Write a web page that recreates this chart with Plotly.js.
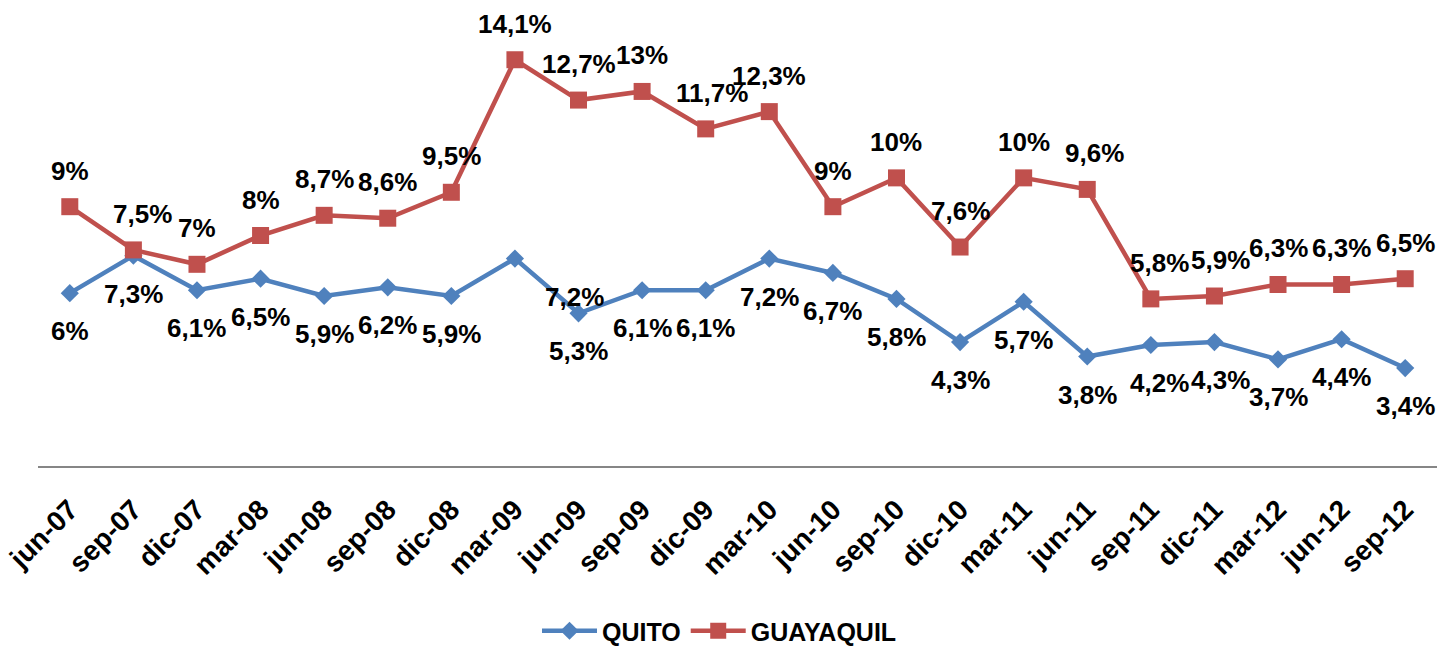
<!DOCTYPE html>
<html>
<head>
<meta charset="utf-8">
<script src="https://cdn.plot.ly/plotly-3.0.1.min.js"></script>
<style>html,body{margin:0;padding:0;background:#fff}#chart{width:1439px;height:654px}</style>
</head>
<body>
<div id="chart"></div>
<script>
const categories = ["jun-07","sep-07","dic-07","mar-08","jun-08","sep-08","dic-08","mar-09","jun-09","sep-09","dic-09","mar-10","jun-10","sep-10","dic-10","mar-11","jun-11","sep-11","dic-11","mar-12","jun-12","sep-12"];
const quito = [6, 7.3, 6.1, 6.5, 5.9, 6.2, 5.9, 7.2, 5.3, 6.1, 6.1, 7.2, 6.7, 5.8, 4.3, 5.7, 3.8, 4.2, 4.3, 3.7, 4.4, 3.4];
const guayaquil = [9, 7.5, 7, 8, 8.7, 8.6, 9.5, 14.1, 12.7, 13, 11.7, 12.3, 9, 10, 7.6, 10, 9.6, 5.8, 5.9, 6.3, 6.3, 6.5];

// label nudges (pixels), kept apart from data
const quitoNudgeX = {7: 60, 17: 9, 18: 6};
const guayNudgeX = {10: 6, 16: 7, 17: 9, 18: 6, 1: 9};

const fmt = v => String(v).replace('.', ',') + '%';
const FONT = 'Arial, "Liberation Sans", sans-serif';

const annotations = [];
categories.forEach((c, i) => {
  annotations.push({
    x: c, y: quito[i], xref: 'x', yref: 'y', text: fmt(quito[i]), showarrow: false,
    yshift: -38, xshift: quitoNudgeX[i] || 0,
    font: {family: FONT, size: 26, color: '#000', weight: 'bold'}
  });
  annotations.push({
    x: c, y: guayaquil[i], xref: 'x', yref: 'y', text: fmt(guayaquil[i]), showarrow: false,
    yshift: 36, xshift: guayNudgeX[i] || 0,
    font: {family: FONT, size: 26, color: '#000', weight: 'bold'}
  });
});

const data = [
  {x: categories, y: quito, name: 'QUITO', type: 'scatter', mode: 'lines+markers',
   line: {color: '#4F81BD', width: 4.5}, marker: {symbol: 'diamond', size: 14, color: '#4F81BD'}},
  {x: categories, y: guayaquil, name: 'GUAYAQUIL', type: 'scatter', mode: 'lines+markers',
   line: {color: '#C0504D', width: 4.5}, marker: {symbol: 'square', size: 17, color: '#C0504D'}}
];

const layout = {
  width: 1439, height: 654,
  margin: {l: 38, r: 2, t: 5, b: 188},
  paper_bgcolor: '#fff', plot_bgcolor: '#fff',
  showlegend: true,
  legend: {orientation: 'h', x: 0.5, xanchor: 'center', xref: 'container', y: -7/654, yref: 'container', yanchor: 'bottom',
           font: {family: FONT, size: 25, color: '#000', weight: 'bold'}, itemwidth: 55},
  xaxis: {type: 'category', range: [-0.5, 21.5], showline: true, linecolor: '#868686', linewidth: 2,
          showgrid: false, zeroline: false, ticks: '', tickangle: -45, ticklabelstandoff: 14,
          tickfont: {family: FONT, size: 28, color: '#000', weight: 'bold'}, fixedrange: true},
  yaxis: {range: [0, 16], visible: false, showgrid: false, zeroline: false, fixedrange: true},
  annotations: annotations
};

Plotly.newPlot('chart', data, layout, {displayModeBar: false, staticPlot: true});
</script>
</body>
</html>
